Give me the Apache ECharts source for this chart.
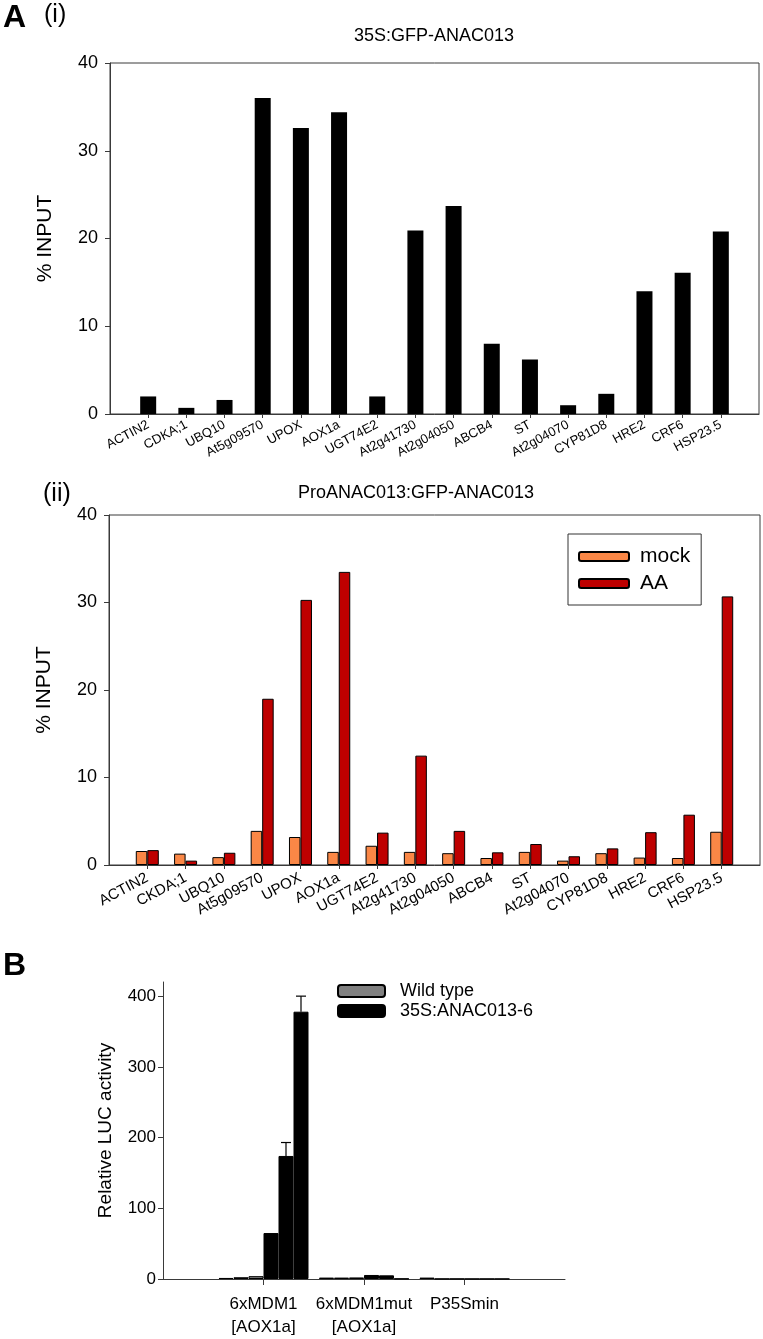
<!DOCTYPE html>
<html>
<head>
<meta charset="utf-8">
<script src="https://cdn.jsdelivr.net/npm/echarts@6/dist/echarts.min.js"></script>
<style>
html,body{margin:0;padding:0;background:#fff;}
#c{width:763px;height:1339px;}
</style>
</head>
<body>
<div id="c"></div>
<script>
// ---------- Data ----------
const genesA1 = ['ACTIN2','CDKA;1','UBQ10','At5g09570','UPOX','AOX1a','UGT74E2','At2g41730','At2g04050','ABCB4','ST','At2g04070','CYP81D8','HRE2','CRF6','HSP23.5'];
const valuesA1 = [2.0, 0.7, 1.6, 36.0, 32.6, 34.4, 2.0, 20.9, 23.7, 8.0, 6.2, 1.0, 2.3, 14.0, 16.1, 20.8];

const genesA2 = ['ACTIN2','CKDA;1','UBQ10','At5g09570','UPOX','AOX1a','UGT74E2','At2g41730','At2g04050','ABCB4','ST','At2g04070','CYP81D8','HRE2','CRF6','HSP23.5'];
const mockA2 = [1.6, 1.3, 0.9, 3.9, 3.2, 1.5, 2.2, 1.5, 1.35, 0.8, 1.5, 0.5, 1.35, 0.85, 0.8, 3.8];
const aaA2 = [1.7, 0.5, 1.4, 19.0, 30.3, 33.5, 3.7, 12.5, 3.9, 1.45, 2.4, 1.0, 1.9, 3.75, 5.75, 30.7];

const constructsB = ['6xMDM1\n[AOX1a]', '6xMDM1mut\n[AOX1a]', 'P35Smin'];
const wtB1 = [1.5, 2.0, 2.0];
const wtB2 = [2.5, 2.0, 0.3];
const wtB3 = [4.0, 2.2, 0.3];
const anB1 = [65, 5.7, 0.2];
const anB2 = [174, 5.2, 0.2];
const anB3 = [378, 0.5, 0.2];
const anB2err = [19, 0, 0];
const anB3err = [22, 0, 0];

const yTicksB = [0, 100, 200, 300, 400];

// ---------- Helpers ----------
const pad = a => [null, ...a, null];
const padCat = a => ['', ...a, ''];
const FONT = "'Liberation Sans', Arial, Helvetica, sans-serif";
const AX = '#3a3a3a';

const chart = echarts.init(document.getElementById('c'), null, {renderer: 'canvas'});

function yAxisA(gridIndex) {
  return {
    type: 'value', gridIndex, min: 0, max: 40, interval: 10,
    name: '% INPUT', nameLocation: 'middle', nameRotate: 90, nameGap: 54,
    nameTextStyle: {fontFamily: FONT, fontSize: 21, color: '#000'},
    axisLine: {show: true, lineStyle: {color: AX, width: 1}},
    axisTick: {show: true, length: 5, inside: false, lineStyle: {color: AX}},
    axisLabel: {fontFamily: FONT, fontSize: 18, color: '#000', margin: 12},
    splitLine: {show: false}
  };
}
function xAxisA(gridIndex, cats, fs, mg) {
  return {
    type: 'category', gridIndex, data: padCat(cats), boundaryGap: false,
    axisLine: {show: true, lineStyle: {color: AX, width: 1}},
    axisTick: {show: true, length: 4, interval: (i, v) => v !== '', lineStyle: {color: AX}},
    axisLabel: {interval: 0, rotate: 28, fontFamily: FONT, fontSize: fs, color: '#000', margin: mg},
    splitLine: {show: false}
  };
}

// error bar custom series for panel B
function errSeries(vals, errs, idxInGroup, barW) {
  const data = [];
  vals.forEach((v, i) => { if (errs[i] > 0) data.push([i + 1, v, errs[i]]); });
  return {
    type: 'custom', xAxisIndex: 2, yAxisIndex: 2, z: 5,
    data,
    renderItem: function (params, api) {
      const x = api.value(0), v = api.value(1), e = api.value(2);
      const p0 = api.coord([x, v]);
      const p1 = api.coord([x, v + e]);
      const off = (idxInGroup - 2.5) * barW;
      const cx = p0[0] + off;
      const cap = 5;
      return {
        type: 'group',
        children: [
          {type: 'line', shape: {x1: cx, y1: p0[1], x2: cx, y2: p1[1]}, style: {stroke: '#000', lineWidth: 1.2}},
          {type: 'line', shape: {x1: cx - cap, y1: p1[1], x2: cx + cap, y2: p1[1]}, style: {stroke: '#000', lineWidth: 1.2}}
        ]
      };
    }
  };
}

const BW_B = 15;
function barB(name, vals, color) {
  return {
    type: 'bar', name, xAxisIndex: 2, yAxisIndex: 2, data: pad(vals),
    barWidth: BW_B, barGap: '0%',
    itemStyle: {color, borderColor: '#000', borderWidth: 1},
    emphasis: {disabled: true}
  };
}

const option = {
  animation: false,
  backgroundColor: '#fff',
  textStyle: {fontFamily: FONT},
  grid: [
    {left: 110, top: 63, width: 649, height: 351, show: true, borderColor: AX, borderWidth: 1, backgroundColor: 'transparent'},
    {left: 109, top: 515, width: 651, height: 350, show: true, borderColor: AX, borderWidth: 1, backgroundColor: 'transparent'},
    {left: 163, top: 982, width: 402, height: 297}
  ],
  xAxis: [
    xAxisA(0, genesA1, 13, 10),
    xAxisA(1, genesA2, 15, 12),
    {
      type: 'category', gridIndex: 2, data: padCat(constructsB), boundaryGap: false,
      axisLine: {show: true, lineStyle: {color: AX, width: 1}},
      axisTick: {show: true, length: 6, interval: (i, v) => v !== '', lineStyle: {color: AX}},
      axisLabel: {interval: 0, fontFamily: FONT, fontSize: 17, color: '#000', margin: 14, lineHeight: 23},
      splitLine: {show: false}
    }
  ],
  yAxis: [
    yAxisA(0),
    yAxisA(1),
    {
      type: 'value', gridIndex: 2, min: 0, max: 420,
      name: 'Relative LUC activity', nameLocation: 'middle', nameRotate: 90, nameGap: 48,
      nameTextStyle: {fontFamily: FONT, fontSize: 19, color: '#000'},
      axisLine: {show: true, lineStyle: {color: AX, width: 1}},
      axisTick: {show: true, length: 5, customValues: yTicksB, lineStyle: {color: AX}},
      axisLabel: {fontFamily: FONT, fontSize: 17, color: '#000', margin: 7, customValues: yTicksB},
      splitLine: {show: false}
    }
  ],
  legend: [
    {
      data: ['mock', 'AA'], orient: 'vertical', left: 568, top: 534,
      itemWidth: 50, itemHeight: 9, itemGap: 6,
      borderColor: '#333', borderWidth: 1, padding: [12, 11, 11, 10],
      backgroundColor: '#fff',
      textStyle: {fontFamily: FONT, fontSize: 21, color: '#000', padding: [0, 0, 0, 6]},
      selectedMode: false
    },
    {
      data: ['Wild type', '35S:ANAC013-6'], orient: 'vertical', left: 337, top: 982,
      itemWidth: 47, itemHeight: 12, itemGap: 2,
      padding: 0,
      textStyle: {fontFamily: FONT, fontSize: 18, color: '#000', padding: [0, 0, 0, 10]},
      selectedMode: false
    }
  ],
  graphic: [
    {type: 'text', left: 3, top: 2, style: {text: 'A', font: "bold 32px " + FONT, fill: '#000'}},
    {type: 'text', left: 44, top: 3, style: {text: '(i)', font: "25px " + FONT, fill: '#000'}},
    {type: 'text', x: 434, y: 36, style: {text: '35S:GFP-ANAC013', font: "18px " + FONT, fill: '#000', textAlign: 'center', textVerticalAlign: 'middle'}},
    {type: 'text', left: 43, top: 482, style: {text: '(ii)', font: "25px " + FONT, fill: '#000'}},
    {type: 'text', x: 416, y: 493, style: {text: 'ProANAC013:GFP-ANAC013', font: "18px " + FONT, fill: '#000', textAlign: 'center', textVerticalAlign: 'middle'}},
    {type: 'text', left: 3, top: 950, style: {text: 'B', font: "bold 32px " + FONT, fill: '#000'}}
  ],
  series: [
    {
      type: 'bar', name: '35S:GFP-ANAC013', xAxisIndex: 0, yAxisIndex: 0, data: pad(valuesA1),
      barWidth: 16, itemStyle: {color: '#000'}, emphasis: {disabled: true}
    },
    {
      type: 'bar', name: 'mock', xAxisIndex: 1, yAxisIndex: 1, data: pad(mockA2),
      barWidth: 11.5, barGap: '0%',
      itemStyle: {color: '#FA8746', borderColor: '#000', borderWidth: 1}, emphasis: {disabled: true}
    },
    {
      type: 'bar', name: 'AA', xAxisIndex: 1, yAxisIndex: 1, data: pad(aaA2),
      barWidth: 11.5, barGap: '0%',
      itemStyle: {color: '#BE0000', borderColor: '#000', borderWidth: 1}, emphasis: {disabled: true}
    },
    barB('Wild type', wtB1, '#808080'),
    barB('Wild type', wtB2, '#808080'),
    barB('Wild type', wtB3, '#808080'),
    barB('35S:ANAC013-6', anB1, '#000'),
    barB('35S:ANAC013-6', anB2, '#000'),
    barB('35S:ANAC013-6', anB3, '#000'),
    errSeries(anB2, anB2err, 4, BW_B),
    errSeries(anB3, anB3err, 5, BW_B)
  ]
};
chart.setOption(option);
</script>
</body>
</html>
